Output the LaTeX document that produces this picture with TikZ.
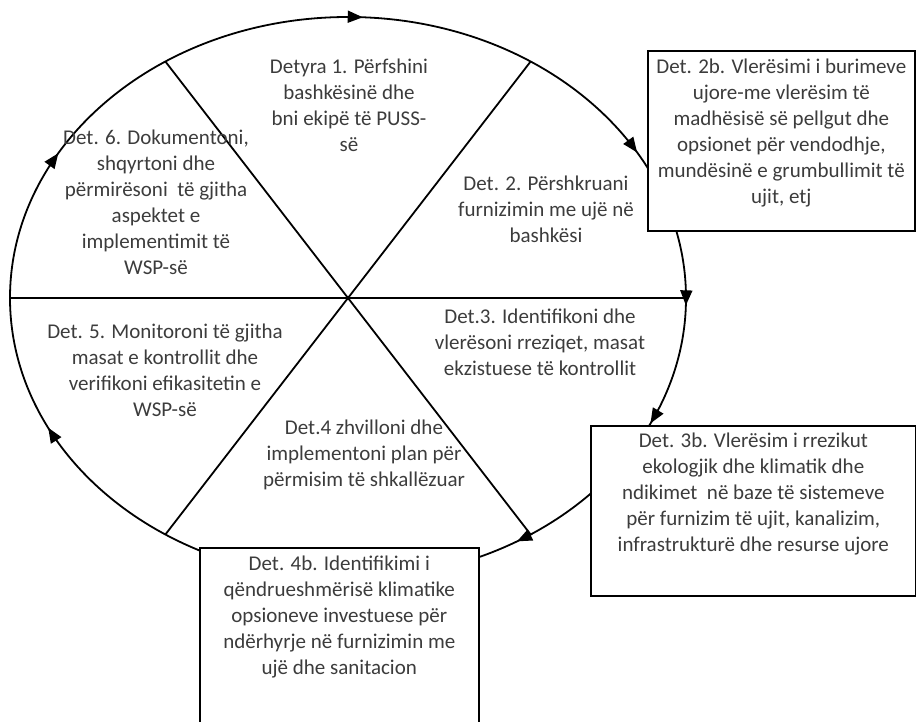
\documentclass[tikz,border=0pt]{standalone}
\usepackage{fontspec}
\setmainfont{Carlito}
\usetikzlibrary{arrows.meta}
\definecolor{textgray}{HTML}{3C3C3C}

\tikzset{
  ring/.style={line width=1.8pt},
  ringarrow/.style={line width=1.8pt,-{Triangle[length=15pt,width=12pt]}},
  steptext/.style={align=center,text=textgray,font=\fontsize{21}{26}\selectfont,inner sep=0pt},
  stepbox/.style={draw,line width=1.6pt,fill=white,align=center,text=textgray,
    font=\fontsize{21}{26}\selectfont,anchor=north west,inner sep=0pt}
}

\begin{document}
\begin{tikzpicture}[x=1pt,y=1pt]
            \useasboundingbox (0,0) rectangle (916,-722);

            \coordinate (hub) at (348,-298);
            \coordinate (east) at ([shift={(0:338 and 281)}]hub);
            \coordinate (west) at ([shift={(180:338 and 281)}]hub);
            \coordinate (ne) at ([shift={(57.3:338 and 281)}]hub);
            \coordinate (sw) at ([shift={(237.3:338 and 281)}]hub);
            \coordinate (nw) at ([shift={(122.7:338 and 281)}]hub);
            \coordinate (se) at ([shift={(-57.3:338 and 281)}]hub);

            \draw[ring] (hub) ellipse [x radius=338,y radius=281];
            \draw[ring] (west) -- (east);
            \draw[ring] (nw) -- (se);
            \draw[ring] (ne) -- (sw);

            \node[steptext] (s1) at (349,-105) {Detyra 1. Përfshini\\bashkësinë dhe\\bni ekipë të PUSS-\\së};
            \node[steptext] (s2) at (546,-209) {Det. 2. Përshkruani\\furnizimin me ujë në\\bashkësi};
            \node[steptext] (s3) at (540,-342) {Det.3. Identifikoni dhe\\vlerësoni rreziqet, masat\\ekzistuese të kontrollit};
            \node[steptext] (s4) at (364,-455) {Det.4 zhvilloni dhe\\implementoni plan për\\përmisim të shkallëzuar};
            \node[steptext] (s5) at (165,-370) {Det. 5. Monitoroni të gjitha\\masat e kontrollit dhe\\verifikoni efikasitetin e\\WSP-së};
            \node[steptext] (s6) at (156,-202) {Det. 6. Dokumentoni,\\shqyrtoni dhe\\përmirësoni\ \ të gjitha\\aspektet e\\implementimit të\\WSP-së};

            \node[stepbox,minimum width=267,minimum height=180] (b2) at (647,-50)
              {Det. 2b. Vlerësimi i burimeve\\ujore-me vlerësim të\\madhësisë së pellgut dhe\\opsionet për vendodhje,\\mundësinë e grumbullimit të\\ujit, etj\\[-6pt]\mbox{}};
            \node[stepbox,minimum width=325,minimum height=170] (b3) at (590,-425)
              {Det. 3b. Vlerësim i rrezikut\\ekologjik dhe klimatik dhe\\ndikimet\ \ në baze të sistemeve\\për furnizim të ujit, kanalizim,\\infrastrukturë dhe resurse ujore\\[11pt]\mbox{}};
            \node[stepbox,minimum width=279,minimum height=182] (b4) at (199,-547)
              {Det. 4b. Identifikimi i\\qëndrueshmërisë klimatike\\opsioneve investuese për\\ndërhyrje në furnizimin me\\ujë dhe sanitacion\\[22pt]\mbox{}};

            \foreach \a in {87.5,31.2,-1.5,-26.5,-60,207.5,149}
              \draw[ringarrow] ([shift={(\a+3:338 and 281)}]hub) arc[start angle=\a+3,end angle=\a,x radius=338,y radius=281];

\end{tikzpicture}
\end{document}
